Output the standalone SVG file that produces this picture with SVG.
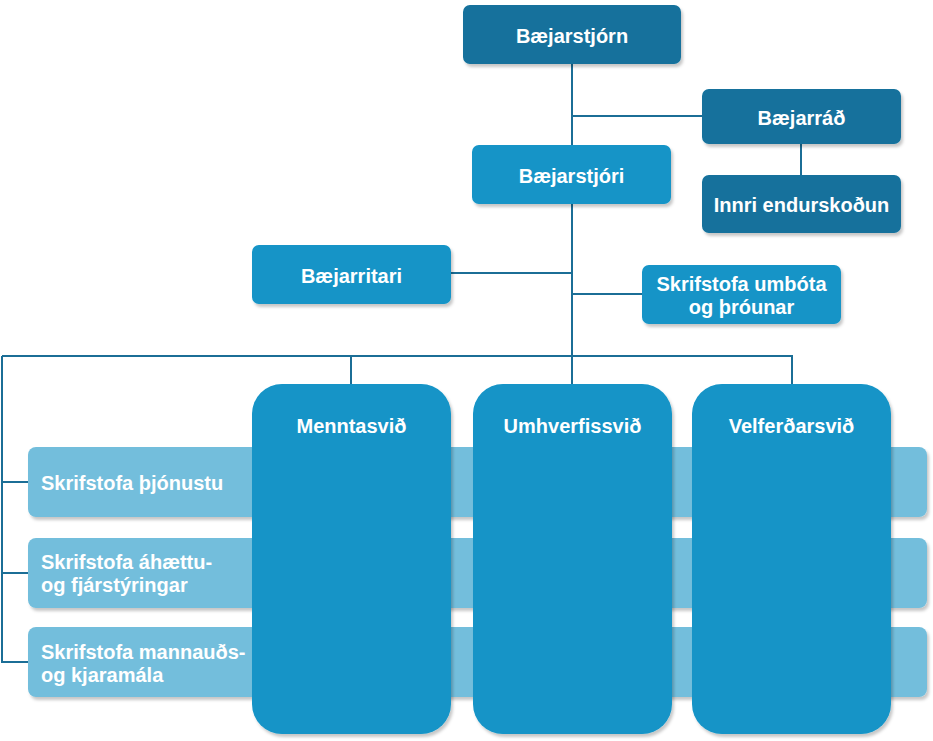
<svg xmlns="http://www.w3.org/2000/svg" width="933" height="741" viewBox="0 0 933 741">
<defs>
<filter id="sh" x="-10%" y="-10%" width="130%" height="130%">
<feDropShadow dx="2" dy="3" stdDeviation="1.5" flood-color="#000" flood-opacity="0.22"/>
</filter>
<style>
.dark{fill:#13719c;filter:url(#sh)}
.mid{fill:#1394c7;filter:url(#sh)}
.light{fill:#73bedc;filter:url(#sh)}
.t{font-family:"Liberation Sans",Arial,sans-serif;font-weight:bold;font-size:20px;fill:#fff}
.c{text-anchor:middle}
.ln{stroke:#1b6e96;stroke-width:2;fill:none}
</style>
</defs>
<rect width="933" height="741" fill="#fff"/>
<g id="connectors">
<path class="ln" d="M572,64 V384"/>
<path class="ln" d="M572,116 H702"/>
<path class="ln" d="M801,144 V175"/>
<path class="ln" d="M451,273 H572"/>
<path class="ln" d="M572,294 H642"/>
<path class="ln" d="M2,356 H792 V384"/>
<path class="ln" d="M351,356 V384"/>
<path class="ln" d="M2,356 V662 H28"/>
<path class="ln" d="M2,482 H28"/>
<path class="ln" d="M2,573 H28"/>
</g>
<g id="n-thjonustu">
<rect class="light" x="28" y="447" width="899" height="70" rx="8"/>
<text class="t" x="41" y="490">Skrifstofa þjónustu</text>
</g>
<g id="n-ahaettu">
<rect class="light" x="28" y="538" width="899" height="70" rx="8"/>
<text class="t" x="41" y="569">Skrifstofa áhættu-</text>
<text class="t" x="41" y="592">og fjárstýringar</text>
</g>
<g id="n-mannauds">
<rect class="light" x="28" y="627" width="899" height="70" rx="8"/>
<text class="t" x="41" y="659">Skrifstofa mannauðs-</text>
<text class="t" x="41" y="682">og kjaramála</text>
</g>
<g id="n-baejarstjorn">
<rect class="dark" x="463" y="5" width="218" height="59" rx="7"/>
<text class="t c" x="572" y="43">Bæjarstjórn</text>
</g>
<g id="n-baejarrad">
<rect class="dark" x="702" y="89" width="199" height="55" rx="7"/>
<text class="t c" x="801.5" y="125">Bæjarráð</text>
</g>
<g id="n-innri">
<rect class="dark" x="702" y="175" width="199" height="58" rx="7"/>
<text class="t c" x="801.5" y="212">Innri endurskoðun</text>
</g>
<g id="n-baejarstjori">
<rect class="mid" x="472" y="145" width="199" height="59" rx="7"/>
<text class="t c" x="571.5" y="183">Bæjarstjóri</text>
</g>
<g id="n-baejarritari">
<rect class="mid" x="252" y="245" width="199" height="59" rx="7"/>
<text class="t c" x="351.5" y="283">Bæjarritari</text>
</g>
<g id="n-umbota">
<rect class="mid" x="642" y="265" width="199" height="59" rx="7"/>
<text class="t c" x="741.5" y="291">Skrifstofa umbóta</text>
<text class="t c" x="741.5" y="314">og þróunar</text>
</g>
<g id="n-menntasvid">
<rect class="mid" x="252" y="384" width="199" height="350" rx="30"/>
<text class="t c" x="351.5" y="433">Menntasvið</text>
</g>
<g id="n-umhverfissvid">
<rect class="mid" x="473" y="384" width="199" height="350" rx="30"/>
<text class="t c" x="572.5" y="433">Umhverfissvið</text>
</g>
<g id="n-velferdarsvid">
<rect class="mid" x="692" y="384" width="199" height="350" rx="30"/>
<text class="t c" x="791.5" y="433">Velferðarsvið</text>
</g>
</svg>
